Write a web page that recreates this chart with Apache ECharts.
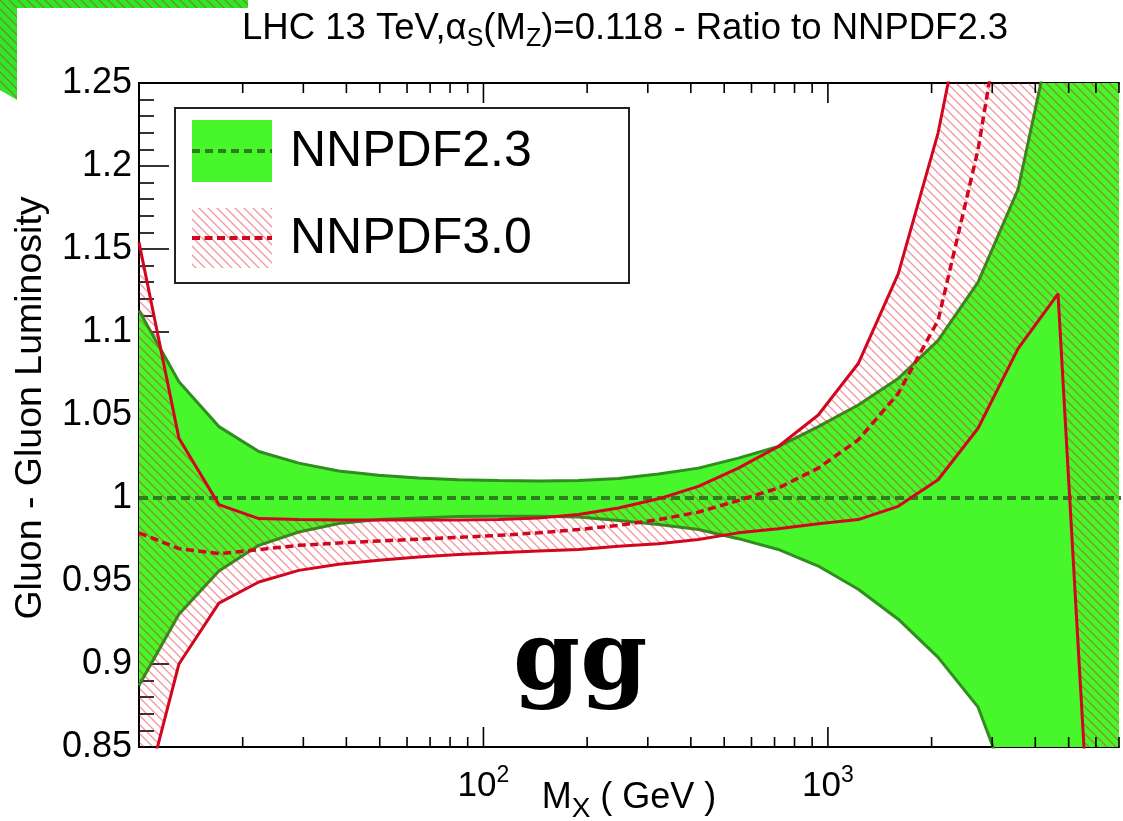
<!DOCTYPE html>
<html><head><meta charset="utf-8">
<script src="https://cdn.jsdelivr.net/npm/echarts@6/dist/echarts.min.js"></script>
<style>html,body{margin:0;padding:0;background:#fff}#c{width:1123px;height:821px}</style>
</head><body><div id="c"></div>
<script>
// ---- data ----
const massGeV = [10, 13.06, 17.06, 22.28, 29.11, 38.02, 49.66, 64.86, 84.72, 110.7, 144.5, 188.8, 246.6, 322.1, 420.7, 549.5, 717.8, 937.6, 1225, 1600, 2089, 2729, 3565, 4656, 6081, 7943];
const nn23Upper = [1.113, 1.070, 1.043, 1.028, 1.021, 1.0163, 1.0137, 1.012, 1.011, 1.0105, 1.0103, 1.0105, 1.0118, 1.0145, 1.018, 1.024, 1.031, 1.043, 1.056, 1.072, 1.095, 1.130, 1.186, 1.298, 1.42, 1.55];
const nn23Central = [1, 1, 1, 1, 1, 1, 1, 1, 1, 1, 1, 1, 1, 1, 1, 1, 1, 1, 1, 1, 1, 1, 1, 1, 1, 1];
const nn23Lower = [0.887, 0.930, 0.956, 0.9715, 0.9795, 0.9846, 0.987, 0.988, 0.9888, 0.989, 0.989, 0.9885, 0.9865, 0.984, 0.981, 0.9755, 0.969, 0.959, 0.945, 0.927, 0.904, 0.874, 0.81, 0.74, 0.68, 0.62];
const nn30Upper = [1.154, 1.036, 0.996, 0.9876, 0.987, 0.9868, 0.9868, 0.9868, 0.9868, 0.987, 0.988, 0.990, 0.994, 0.9995, 1.007, 1.018, 1.031, 1.050, 1.081, 1.135, 1.220, 1.34, 1.55, 1.8, 2.1, 2.4];
const nn30Central = [0.979, 0.9695, 0.9665, 0.9689, 0.9715, 0.9729, 0.9741, 0.9752, 0.9763, 0.9775, 0.979, 0.981, 0.9835, 0.987, 0.9915, 0.9985, 1.006, 1.018, 1.035, 1.063, 1.107, 1.21, 1.355, 1.6, 1.9, 2.2];
const nn30Lower = [0.807, 0.900, 0.9367, 0.9494, 0.9564, 0.9601, 0.9625, 0.9645, 0.966, 0.967, 0.968, 0.969, 0.971, 0.9725, 0.975, 0.979, 0.9815, 0.9845, 0.987, 0.995, 1.011, 1.042, 1.090, 1.123, 0.703, 0.5];
const xMajorTicks = [100, 1000];
const xMinorTicks = [20, 30, 40, 50, 60, 70, 80, 90, 200, 300, 400, 500, 600, 700, 800, 900, 2000, 3000, 4000, 5000, 6000, 7000];
const xLabelExponents = [2, 3];
const seriesNames = ['NNPDF2.3', 'NNPDF3.0'];
const titleText = 'LHC 13 TeV,{g|α}{s|S}{t|(M}{s|Z}{t|)=0.118 - Ratio to NNPDF2.3}';
const yAxisTitle = 'Gluon - Gluon Luminosity';
const xAxisTitle = 'M{s|X}{t| ( GeV )}';
const channelLabel = 'gg';

// ---- styles ----
const FONT = '"Liberation Sans", Arial, Helvetica, sans-serif';
const GREEN = '#47f62b';
const GREEN_LINE = '#2f8e1f';
const GREEN_DASH = '#2c7f1c';
const RED = '#d1071f';
const Y_MIN = 0.85, Y_MAX = 1.25;

function hatchCanvas() {
  const s = 9, c = document.createElement('canvas');
  c.width = s; c.height = s;
  const g = c.getContext('2d');
  g.strokeStyle = 'rgba(225,20,40,0.44)';
  g.lineWidth = 1.35;
  g.beginPath();
  g.moveTo(-1, -1); g.lineTo(s + 1, s + 1);
  g.moveTo(-1, s - 1); g.lineTo(1, s + 1);
  g.moveTo(s - 1, -1); g.lineTo(s + 1, 1);
  g.stroke();
  return c;
}
const HATCH = { image: hatchCanvas(), repeat: 'repeat' };

function pairs(ys) { return massGeV.map((x, i) => [x, ys[i]]); }

function bandSeries(upper, lower, fill, z) {
  return {
    type: 'custom', coordinateSystem: 'cartesian2d', clip: true, silent: true, z: z,
    data: [[massGeV[0], 1]], encode: { x: 0, y: 1 },
    renderItem: function (params, api) {
      const pts = [];
      for (let i = 0; i < massGeV.length; i++) pts.push(api.coord([massGeV[i], upper[i]]));
      for (let i = massGeV.length - 1; i >= 0; i--) pts.push(api.coord([massGeV[i], lower[i]]));
      return { type: 'polygon', shape: { points: pts }, style: { fill: fill, stroke: null } };
    }
  };
}
function lineSeries(name, ys, color, width, dash, z) {
  return {
    type: 'line', name: name, data: pairs(ys), symbol: 'none', showSymbol: false,
    clip: true, silent: true, z: z, animation: false,
    lineStyle: { color: color, width: width, type: dash || 'solid', cap: 'butt' }
  };
}

const tickData = xMinorTicks.map(v => [v, 0]).concat(xMajorTicks.map(v => [v, 1]));
const tickSeries = {
  type: 'custom', coordinateSystem: 'cartesian2d', silent: true, z: 10,
  data: tickData, encode: { x: 0 },
  renderItem: function (params, api) {
    const v = api.value(0), major = api.value(1) === 1;
    const b = api.coord([v, Y_MIN]), t = api.coord([v, Y_MAX]);
    const len = major ? 20 : 10;
    const st = { stroke: '#000', lineWidth: 1.6 };
    return { type: 'group', children: [
      { type: 'line', shape: { x1: b[0], y1: b[1], x2: b[0], y2: b[1] - len }, style: st },
      { type: 'line', shape: { x1: t[0], y1: t[1], x2: t[0], y2: t[1] + len }, style: st }
    ] };
  }
};

const chart = echarts.init(document.getElementById('c'), null, { renderer: 'canvas' });
chart.setOption({
  animation: false,
  backgroundColor: '#fff',
  title: {
    text: titleText, left: 237, top: 1,
    textStyle: {
      fontFamily: FONT, fontSize: 36.5, fontWeight: 'normal', color: '#000', lineHeight: 46,
      rich: {
        g: { fontFamily: FONT, fontSize: 36.5, color: '#000', lineHeight: 46 },
        s: { fontFamily: FONT, fontSize: 25, color: '#000', lineHeight: 20, verticalAlign: 'bottom' },
        t: { fontFamily: FONT, fontSize: 36.5, color: '#000', lineHeight: 46 }
      }
    }
  },
  grid: { left: 139, right: 4, top: 83, bottom: 74, containLabel: false, outerBoundsMode: 'none' },
  xAxis: [{
    type: 'log', logBase: 10, min: 10, max: 7000, position: 'bottom',
    axisLine: { show: true, onZero: false, lineStyle: { color: '#000', width: 2 } },
    axisTick: { show: false }, minorTick: { show: false }, splitLine: { show: false },
    axisLabel: {
      margin: 17, fontFamily: FONT, fontSize: 35, color: '#000', lineHeight: 44,
      showMinLabel: true, showMaxLabel: true, hideOverlap: false,
      formatter: function (v) {
        const l = Math.log10(v), e = Math.round(l);
        if (Math.abs(l - e) > 1e-6 || xLabelExponents.indexOf(e) < 0) return '';
        return '10{s|' + e + '}';
      },
      rich: { s: { fontFamily: FONT, fontSize: 23, color: '#000', lineHeight: 24, verticalAlign: 'top' } }
    },
    name: xAxisTitle, nameLocation: 'middle', nameGap: 26, nameMoveOverlap: false,
    nameTextStyle: {
      fontFamily: FONT, fontSize: 36, color: '#000', lineHeight: 50,
      rich: {
        s: { fontFamily: FONT, fontSize: 28, color: '#000', lineHeight: 24, verticalAlign: 'bottom' },
        t: { fontFamily: FONT, fontSize: 36, color: '#000', lineHeight: 50 }
      }
    }
  }, {
    type: 'log', logBase: 10, min: 10, max: 7000, position: 'top',
    axisLine: { show: true, onZero: false, lineStyle: { color: '#000', width: 2 } },
    axisTick: { show: false }, axisLabel: { show: false }, splitLine: { show: false }
  }],
  yAxis: {
    type: 'value', min: Y_MIN, max: Y_MAX, interval: 0.05,
    axisLine: { show: true, lineStyle: { color: '#000', width: 2 } },
    axisTick: { show: true, inside: true, length: 30, lineStyle: { color: '#000', width: 1.6 } },
    minorTick: { show: true, splitNumber: 5, length: 15, lineStyle: { color: '#000', width: 1.6 } },
    splitLine: { show: false }, minorSplitLine: { show: false },
    axisLabel: { margin: 7, fontFamily: FONT, fontSize: 36, color: '#000', showMinLabel: true, showMaxLabel: true },
    name: yAxisTitle, nameLocation: 'middle', nameGap: 89, nameMoveOverlap: false,
    nameTextStyle: { fontFamily: FONT, fontSize: 37.5, color: '#000', padding: [0, 0, 0, 14] }
  },
  series: [
    bandSeries(nn23Upper, nn23Lower, GREEN, 1),
    lineSeries(seriesNames[0] + ' upper', nn23Upper, GREEN_LINE, 3, null, 2),
    lineSeries(seriesNames[0] + ' lower', nn23Lower, GREEN_LINE, 3, null, 2),
    bandSeries(nn30Upper, nn30Lower, HATCH, 3),
    lineSeries(seriesNames[0], nn23Central, GREEN_DASH, 4, [9, 5], 4),
    lineSeries(seriesNames[1] + ' upper', nn30Upper, RED, 3, null, 5),
    lineSeries(seriesNames[1] + ' lower', nn30Lower, RED, 3, null, 5),
    lineSeries(seriesNames[1], nn30Central, RED, 3.5, [8, 4.5], 5),
    tickSeries
  ],
  graphic: [
    // legend
    { type: 'rect', z: 100, shape: { x: 175, y: 108, width: 454, height: 175 }, style: { fill: '#fff', stroke: '#222', lineWidth: 2 } },
    { type: 'rect', z: 101, shape: { x: 192, y: 120, width: 80, height: 62 }, style: { fill: GREEN } },
    { type: 'line', z: 102, shape: { x1: 192, y1: 151, x2: 272, y2: 151 }, style: { stroke: GREEN_DASH, lineWidth: 4, lineDash: [8, 5] } },
    { type: 'rect', z: 101, shape: { x: 192, y: 208, width: 80, height: 60 }, style: { fill: HATCH } },
    { type: 'line', z: 102, shape: { x1: 192, y1: 238, x2: 272, y2: 238 }, style: { stroke: RED, lineWidth: 4, lineDash: [8, 4.5] } },
    { type: 'text', z: 102, style: { x: 290, y: 152, text: seriesNames[0], font: '50px ' + FONT, fill: '#000', verticalAlign: 'middle' } },
    { type: 'text', z: 102, style: { x: 290, y: 239, text: seriesNames[1], font: '50px ' + FONT, fill: '#000', verticalAlign: 'middle' } },
    // channel label
    { type: 'text', z: 50, style: { x: 513, y: 664, text: channelLabel, font: 'bold 96px "DejaVu Serif", serif', fill: '#000', verticalAlign: 'middle' } },
    // fragment of a neighbouring panel at the top-left corner
    { type: 'rect', z: 60, shape: { x: 0, y: 0, width: 248, height: 8 }, style: { fill: '#2ee82a' } },
    { type: 'rect', z: 61, shape: { x: 0, y: 0, width: 248, height: 8 }, style: { fill: HATCH } },
    { type: 'polygon', z: 60, shape: { points: [[0, 8], [17, 8], [17, 100], [0, 90]] }, style: { fill: '#2ee82a' } },
    { type: 'polygon', z: 61, shape: { points: [[0, 8], [17, 8], [17, 100], [0, 90]] }, style: { fill: HATCH } }
  ]
});
</script>
</body></html>
